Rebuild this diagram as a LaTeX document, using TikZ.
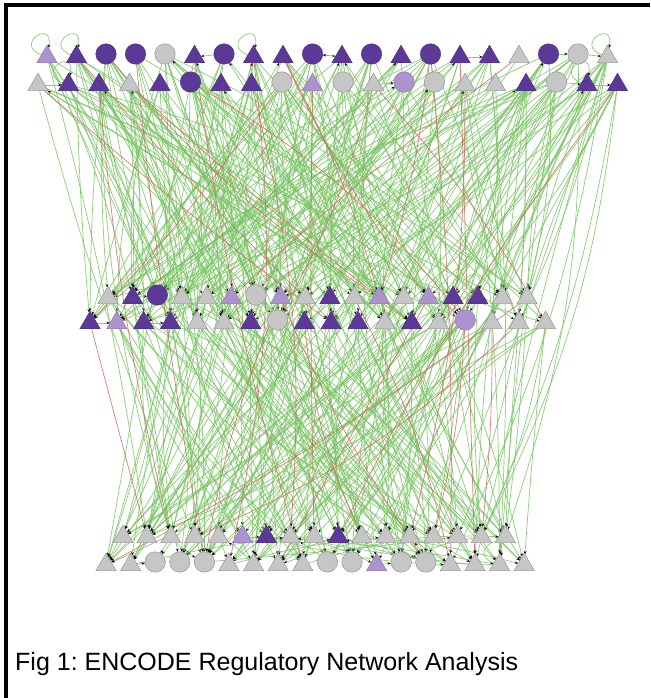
\documentclass[tikz,border=0pt]{standalone}
\usepackage{fontspec}
\setmainfont{Liberation Sans}
\usetikzlibrary{shapes.geometric,arrows.meta}

\pgfdeclarelayer{edges}
\pgfsetlayers{edges,main}

\begin{document}
\frenchspacing
\begin{tikzpicture}[x=1pt,y=-1pt]

		\definecolor{tfDark}{RGB}{92,56,152}
		\definecolor{tfLight}{RGB}{172,146,206}
		\definecolor{tfGrey}{RGB}{198,198,198}
		\definecolor{linkGreen}{RGB}{120,196,98}
		\definecolor{linkRed}{RGB}{204,108,96}

		\pgfmathsetseed{1207}

		\tikzset{
			gene/.style={
				inner sep=0pt,
				outer sep=0pt,
				thin,
			},
			tri/.style={gene, regular polygon, regular polygon sides=3, minimum size=23.5pt, yshift=-2.9pt},
			dot/.style={gene, circle, minimum size=20.5pt},
			dT/.style={tri, fill=tfDark, draw=tfDark!80!black},
			lT/.style={tri, fill=tfLight, draw=tfLight!80!black},
			gT/.style={tri, fill=tfGrey, draw=tfGrey!70!black},
			dC/.style={dot, fill=tfDark, draw=tfDark!80!black},
			lC/.style={dot, fill=tfLight, draw=tfLight!80!black},
			gC/.style={dot, fill=tfGrey, draw=tfGrey!70!black},
			link/.style={
				draw=linkGreen,
				line width=0.7pt,
				draw opacity=0.85,
				-{Stealth[length=3.5pt,width=2.8pt,color=black]},
			},
			redlink/.style={link, draw=linkRed},
		}

		\useasboundingbox (0,0) rectangle (650,698);

		% Frame
		\fill (4,3.5) rectangle (650,7.5);
		\fill (4,3.5) rectangle (8,698);

		% Top rows
		\foreach \kind [count=\i] in {lT,dT,dC,dC,gC,dT,dC,dT,dT,dC,dT,dC,dT,dC,dT,dT,gT,dC,gC,gT}
			\node[\kind] (a\i) at ({47+(\i-1)*29.5},54) {};
		\foreach \kind [count=\i] in {gT,dT,dT,gT,dT,dC,dT,dT,gC,lT,gC,gT,lC,gC,gT,gT,dT,gC,dT,dT}
			\node[\kind] (b\i) at ({38+(\i-1)*30.5},82) {};

		% Middle rows
		\foreach \kind [count=\i] in {gT,dT,dC,gT,gT,lT,gC,lT,gT,dT,gT,lT,gT,lT,dT,dT,gT,gT}
			\node[\kind] (c\i) at ({108+(\i-1)*24.65},295) {};
		\foreach \kind [count=\i] in {dT,lT,dT,dT,gT,gT,dT,gC,dT,dT,dT,gT,dT,gT,lC,gT,gT,gT}
			\node[\kind] (d\i) at ({90+(\i-1)*26.8},320) {};

		% Bottom rows
		\foreach \kind [count=\i] in {gT,gT,gT,gT,gT,lT,dT,gT,gT,dT,gT,gT,gT,gT,gT,gT,gT}
			\node[\kind] (e\i) at ({123+(\i-1)*23.9},534) {};
		\foreach \kind [count=\i] in {gT,gT,gC,gC,gC,gT,gT,gT,gT,gC,gC,lT,gC,gC,gT,gT,gT,gT}
			\node[\kind] (f\i) at ({106+(\i-1)*24.6},562) {};

		% Caption
		\node[anchor=base west, inner sep=0pt, font=\fontsize{25}{30}\selectfont] (caption) at (15,670) {Fig 1: ENCODE Regulatory Network Analysis};

		\begin{pgfonlayer}{edges}
			% Regulation links
			\foreach \from/\nf/\to/\nt/\num/\look in {
				a/20/c/18/55/link, a/20/d/18/55/link, b/20/c/18/50/link, b/20/d/18/50/link,
				c/18/e/17/35/link, c/18/f/18/35/link, d/18/e/17/35/link, d/18/f/18/35/link,
				a/20/e/17/20/link, a/20/f/18/20/link, b/20/e/17/20/link, b/20/f/18/20/link,
				c/18/a/20/10/link, d/18/b/20/10/link, e/17/f/18/12/link, f/18/e/17/10/link,
				a/20/c/18/6/redlink, b/20/d/18/6/redlink, a/20/f/18/5/redlink,
				b/20/e/17/5/redlink, c/18/f/18/5/redlink, d/18/e/17/5/redlink} {
				\foreach \k in {1,...,\num} {
					\pgfmathrandominteger{\src}{1}{\nf}
					\pgfmathrandominteger{\dst}{1}{\nt}
					\pgfmathrandominteger{\bend}{-10}{10}
					\draw[\look] (\from\src) to[bend left=\bend] (\to\dst);
				}
			}

			% Neighbours
			\foreach \from/\to in {a7/a6, a10/a11, a11/a10, a15/a16, a18/a19, a19/a20,
				b12/b13, b18/b19, b19/b20, b1/b2, c2/c3, d1/d2, d3/d4, e6/e7, f2/f3, f12/f13} {
				\draw[link] (\from) -- (\to);
			}

			% Self loops
			\foreach \n in {a1,a2,a8,a20,b2,b19,c16,f17} {
				\draw[link] (\n) to[out=160,in=80,min distance=30pt] (\n);
			}
		\end{pgfonlayer}

\end{tikzpicture}
\end{document}
